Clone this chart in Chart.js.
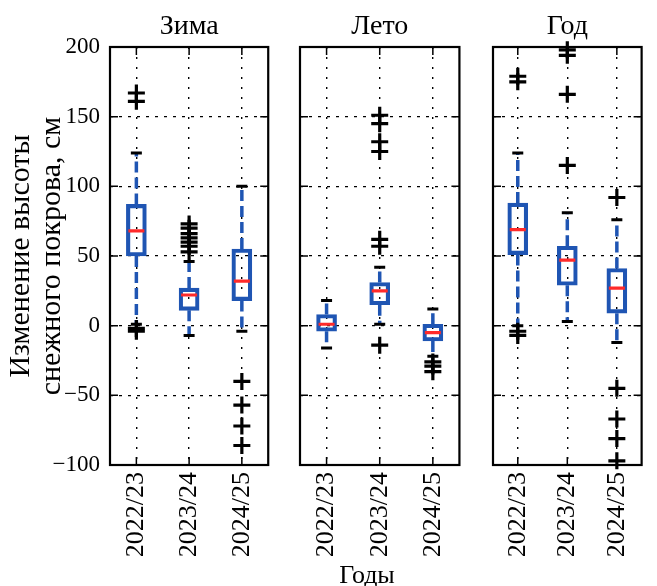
<!DOCTYPE html>
<html>
<head>
<meta charset="utf-8">
<script src="https://cdn.jsdelivr.net/npm/chart.js@4"></script>
<style>
  body{margin:0;background:#fff;}
  #wrap{position:relative;width:657px;height:586px;overflow:hidden;}
  .pane{position:absolute;top:0;height:586px;}
  #xlab{position:absolute;left:317px;width:100px;top:560px;text-align:center;
        font-family:"Liberation Serif",serif;font-size:26px;color:#000;}
</style>
</head>
<body>
<div id="wrap">
  <div class="pane" style="left:0;width:282px"><canvas id="c1"></canvas></div>
  <div class="pane" style="left:282px;width:191px"><canvas id="c2"></canvas></div>
  <div class="pane" style="left:473px;width:184px"><canvas id="c3"></canvas></div>
  <div id="xlab">Годы</div>
</div>
<script>
/* DATA */
const years = ['2022/23', '2023/24', '2024/25'];

// Зима
const winterBox = [[50, 87], [11, 27], [18, 55]];       // q1, q3
const winterMed = [68, 22, 32];
const winterWhisk = [[1, 124], [-7, 46], [-4, 100]];    // low, high
const winterOut = [[167, 161, -2, -4], [73, 70, 66, 63, 60, 57, 53], [-40, -57, -72, -86]];

// Лето
const summerBox = [[-4, 8], [15, 31], [-11, 1]];
const summerMed = [1, 25, -5];
const summerWhisk = [[-16, 18], [1, 42], [-22, 12]];
const summerOut = [[], [151, 145, 132, 125, 62, 57, -14], [-26, -29, -33]];

// Год
const yearBox = [[51, 88], [29, 57], [9, 41]];
const yearMed = [69, 47, 27];
const yearWhisk = [[0, 124], [3, 81], [-12, 76]];
const yearOut = [[179, 175, -4, -7], [198, 194, 166, 115], [92, -45, -67, -81, -97]];

const yTicks = {min: -100, max: 200, step: 50};

Chart.defaults.font.family = '"Liberation Serif", serif';
Chart.defaults.color = '#000';

const BLUE = '#1f55b3';
const RED = '#ff2a2a';

/* frame, inward ticks and panel title */
const framePlugin = {
  id: 'frame',
  afterDraw(chart){
    const {ctx, chartArea: a, scales: {x, y}} = chart;
    ctx.save();
    ctx.strokeStyle = '#000';
    ctx.lineWidth = 1.5;
    ctx.beginPath();
    y.ticks.forEach(t => {
      const py = y.getPixelForValue(t.value);
      ctx.moveTo(a.left, py); ctx.lineTo(a.left + 8, py);
      ctx.moveTo(a.right, py); ctx.lineTo(a.right - 8, py);
    });
    x.ticks.forEach((t, i) => {
      const px = x.getPixelForTick(i);
      ctx.moveTo(px, a.top); ctx.lineTo(px, a.top + 8);
      ctx.moveTo(px, a.bottom); ctx.lineTo(px, a.bottom - 8);
    });
    ctx.stroke();
    ctx.lineWidth = 2.2;
    ctx.strokeRect(a.left, a.top, a.right - a.left, a.bottom - a.top);
    // title centred over the plot area
    ctx.fillStyle = '#000';
    ctx.font = '28px "Liberation Serif", serif';
    ctx.textAlign = 'center';
    ctx.textBaseline = 'middle';
    ctx.fillText(chart.options.panelTitle, (a.left + a.right) / 2, 27);
    ctx.restore();
  }
};

function makePanel(id, title, box, med, whisk, out, showY, padL, padR){
  const whiskPts = [];
  const capPts = [];
  const medPts = [];
  const outPts = [];
  years.forEach((yr, i) => {
    whiskPts.push({x: yr, y: box[i][1]}, {x: yr, y: whisk[i][1]}, {x: yr, y: null});
    whiskPts.push({x: yr, y: box[i][0]}, {x: yr, y: whisk[i][0]}, {x: yr, y: null});
    capPts.push({x: yr, y: whisk[i][0]}, {x: yr, y: whisk[i][1]});
    medPts.push({x: yr, y: med[i]});
    out[i].forEach(v => outPts.push({x: yr, y: v}));
  });

  return new Chart(document.getElementById(id), {
    type: 'bar',
    data: {
      labels: years,
      datasets: [
        {type: 'line', data: outPts, showLine: false, pointStyle: 'cross', pointRadius: 8.5,
         pointBorderColor: '#000', pointBorderWidth: 3.2, clip: false, order: 0},
        {type: 'line', data: medPts, showLine: false, pointStyle: 'line', pointRadius: 8,
         pointBorderColor: RED, pointBorderWidth: 3.2, order: 1},
        {type: 'line', data: capPts, showLine: false, pointStyle: 'line', pointRadius: 5.5,
         pointBorderColor: '#000', pointBorderWidth: 3, order: 2},
        {data: box, backgroundColor: 'rgba(0,0,0,0)', borderColor: BLUE, borderWidth: 3.5,
         borderSkipped: false, barThickness: 20, order: 3},
        {type: 'line', data: whiskPts, borderColor: BLUE, borderWidth: 3.5, borderDash: [11, 5],
         pointRadius: 0, spanGaps: false, order: 4}
      ]
    },
    options: {
      panelTitle: title,
      responsive: true,
      maintainAspectRatio: false,
      animation: false,
      events: [],
      layout: {padding: {left: padL, right: padR, top: 47, bottom: 0}},
      plugins: {
        legend: {display: false},
        tooltip: {enabled: false},
        title: {display: false}
      },
      scales: {
        x: {
          grid: {offset: false, color: '#000', lineWidth: 1.4, drawTicks: false},
          border: {display: false, dash: [2, 8]},
          ticks: {font: {size: 26}, minRotation: 90, maxRotation: 90, padding: 7},
          afterFit: s => { s.height = 121; }
        },
        y: {
          min: yTicks.min, max: yTicks.max,
          grid: {color: '#000', lineWidth: 1.3, drawTicks: false},
          border: {display: false, dash: [3, 6]},
          ticks: {display: showY, stepSize: yTicks.step, font: {size: 23}, padding: 10,
                  callback: v => v < 0 ? '\u2212' + Math.abs(v) : String(v)},
          title: {display: showY, text: ['Изменение высоты', 'снежного покрова, см'],
                  font: {size: 30, lineHeight: 1.03}, padding: {top: 6, bottom: 0}},
          afterFit: s => { s.width = showY ? 110 : 0; }
        }
      }
    },
    plugins: [framePlugin]
  });
}

makePanel('c1', 'Зима', winterBox, winterMed, winterWhisk, winterOut, true, 0, 9);
makePanel('c2', 'Лето', summerBox, summerMed, summerWhisk, summerOut, false, 18, 8);
makePanel('c3', 'Год', yearBox, yearMed, yearWhisk, yearOut, false, 20, 2);
</script>
</body>
</html>
